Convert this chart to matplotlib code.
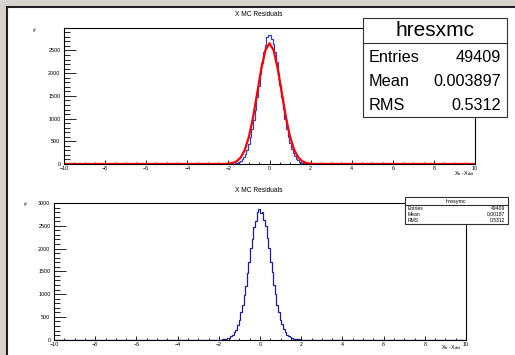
import numpy as np
import matplotlib
matplotlib.use('Agg')
import matplotlib.pyplot as plt
from matplotlib.patches import Rectangle
from matplotlib.lines import Line2D

plt.rcParams['font.family'] = ['Liberation Sans', 'DejaVu Sans']
plt.rcParams['mathtext.default'] = 'regular'

# histogram range and binning (ROOT style, -10..10)
x_lo, x_hi, bin_w = -10.0, 10.0, 0.08
# non-empty bins, from -2.0 to 2.0
core_lo = -2.0
hx_counts = [2, 3, 6, 9, 17, 27, 45, 70, 108, 160, 228, 318, 440, 585, 770,
             975, 1200, 1480, 1720, 1990, 2230, 2460, 2610, 2790, 2850,
             2830, 2760, 2650, 2470, 2250, 2000, 1730, 1470, 1220, 990,
             780, 600, 455, 335, 240, 168, 116, 78, 52, 33, 21, 13, 8, 4, 2]
hy_counts = [2, 4, 5, 10, 15, 29, 42, 73, 104, 166, 221, 325, 432, 598, 758,
             990, 1185, 1470, 1700, 2010, 2210, 2480, 2610, 2810, 2860,
             2790, 2800, 2620, 2490, 2230, 2020, 1710, 1490, 1200, 1010,
             770, 610, 440, 345, 232, 172, 111, 82, 49, 35, 19, 14, 7, 5, 2]

# gaussian fit curve, as drawn
fit_x = [-10, -2.2, -2.0, -1.8, -1.6, -1.4, -1.2, -1.0, -0.8, -0.6, -0.4, -0.2, 0.0,
         0.2, 0.4, 0.6, 0.8, 1.0, 1.2, 1.4, 1.6, 1.8, 2.0, 2.2, 10]
fit_y = [0, 2, 7, 22, 59, 145, 313, 602, 1028, 1558, 2097, 2506, 2660,
         2506, 2097, 1558, 1028, 602, 313, 145, 59, 22, 7, 2, 0]

x_ticks = [-10, -8, -6, -4, -2, 0, 2, 4, 6, 8, 10]
title = 'X MC Residuals'
xlabel = '$X_{tr}$ -$X_{det}$'
stats_x = ('hresxmc', [('Entries', '49409'), ('Mean', '0.003897'), ('RMS', '0.5312')])
stats_y = ('hresymc', [('Entries', '49409'), ('Mean', '0.00187'), ('RMS', '0.5312')])

W, H = 515, 355
fig = plt.figure(figsize=(W / 100, H / 100), dpi=100)
fig.patch.set_facecolor('#d6d3ce')


def px(x, y):
    return x / W, 1 - y / H


# white canvas with dark top/left edge
fig.add_artist(Rectangle((8 / W, 0), 1, 1 - 8 / H, transform=fig.transFigure,
                         facecolor='white', edgecolor='none', zorder=0))
fig.add_artist(Line2D([7 / W, 7 / W], [0, 1 - 7 / H], transform=fig.transFigure,
                      color='#202020', lw=1.5))
fig.add_artist(Line2D([7 / W, 1], [1 - 7 / H, 1 - 7 / H], transform=fig.transFigure,
                      color='#202020', lw=1.5))

edges = np.arange(x_lo, x_hi + bin_w / 2, bin_w)
nbins = len(edges) - 1
i0 = int(round((core_lo - x_lo) / bin_w))


def full_counts(core):
    c = np.zeros(nbins)
    c[i0:i0 + len(core)] = core
    return c


def style_axes(ax, ymax, yticks):
    ax.set_xlim(x_lo, x_hi)
    ax.set_ylim(0, ymax)
    ax.set_xticks(x_ticks)
    ax.set_xticks(np.arange(x_lo, x_hi + 0.01, 0.5), minor=True)
    ax.set_yticks(yticks)
    ax.set_yticks(np.arange(0, ymax + 1, 100), minor=True)
    ax.tick_params(axis='both', direction='in', labelsize=3.9, width=0.6, colors='black')
    ax.tick_params(axis='y', which='major', length=8.6, pad=2.5)
    ax.tick_params(axis='y', which='minor', length=4.3, width=0.6, direction='in')
    ax.tick_params(axis='x', which='major', length=2.9, pad=1.5)
    ax.tick_params(axis='x', which='minor', length=1.4, width=0.6, direction='in')
    for s in ax.spines.values():
        s.set_linewidth(0.8)
        s.set_color('black')


def stat_box(x0, y0, x1, y1, ysep, name, rows, tsize, rsize, row_y, lx, rx):
    fig.add_artist(Rectangle(px(x0, y1), (x1 - x0) / W, (y1 - y0) / H,
                             transform=fig.transFigure, facecolor='white',
                             edgecolor='#303030', lw=0.8, zorder=5))
    fig.add_artist(Line2D([x0 / W, x1 / W], [1 - ysep / H] * 2, transform=fig.transFigure,
                          color='#303030', lw=0.8, zorder=6))
    fig.text((x0 + x1) / 2 / W, 1 - (y0 + ysep) / 2 / H, name, ha='center', va='center',
             fontsize=tsize, zorder=7)
    for (lab, val), yy in zip(rows, row_y):
        fig.text(lx / W, 1 - yy / H, lab, ha='left', va='center', fontsize=rsize, zorder=7)
        fig.text(rx / W, 1 - yy / H, val, ha='right', va='center', fontsize=rsize, zorder=7)


# top pad
ax1 = fig.add_axes([64 / W, 1 - 164 / H, 411 / W, 136 / H])
ax1.stairs(full_counts(hx_counts), edges, color='#3040c0', lw=0.9)
ax1.plot(fit_x, fit_y, color='#ff0000', lw=1.6)
style_axes(ax1, 2995, [0, 500, 1000, 1500, 2000, 2500])
fig.text(259 / W, 1 - 14 / H, title, ha='center', va='center', fontsize=4.8)
fig.text(34 / W, 1 - 31 / H, '#', ha='center', va='center', fontsize=3.5)
fig.text(464 / W, 1 - 174 / H, xlabel, ha='center', va='center', fontsize=4)
stat_box(363, 18, 507, 117, 43, stats_x[0], stats_x[1], 15, 11.7, [57, 81, 105], 369, 501)

# bottom pad
ax2 = fig.add_axes([54 / W, 1 - 339.7 / H, 412 / W, 136.7 / H])
ax2.stairs(full_counts(hy_counts), edges, color='#1a1a9a', lw=0.9)
style_axes(ax2, 3000, [0, 500, 1000, 1500, 2000, 2500, 3000])
fig.text(259 / W, 1 - 191 / H, title, ha='center', va='center', fontsize=4.8)
fig.text(25 / W, 1 - 205 / H, '#', ha='center', va='center', fontsize=3.5)
fig.text(451 / W, 1 - 348 / H, xlabel, ha='center', va='center', fontsize=4)
stat_box(405, 197, 508, 224, 205, stats_y[0], stats_y[1], 4, 3.6, [209, 215, 221], 408, 505)

fig.savefig('out.png', dpi=100, facecolor=fig.get_facecolor())
